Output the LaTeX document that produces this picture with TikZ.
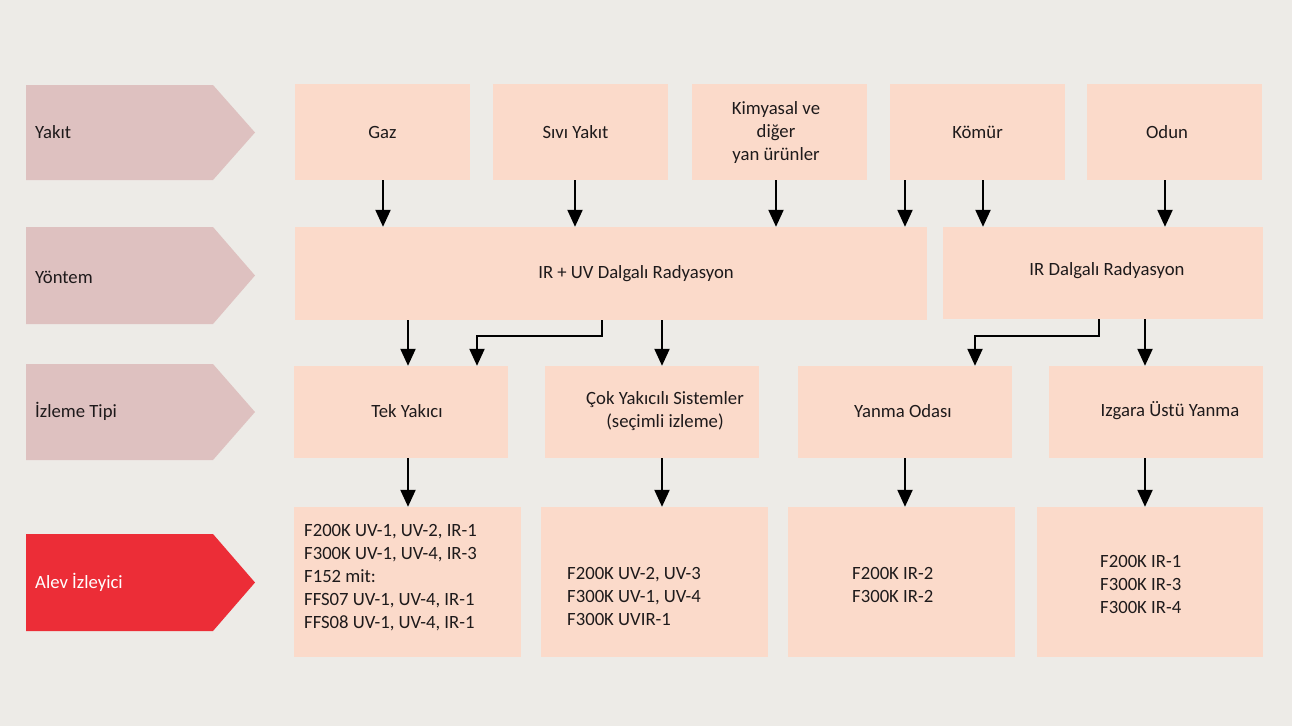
\documentclass[tikz,border=0pt]{standalone}
\usepackage{fontspec}
\setmainfont{Carlito}
\usetikzlibrary{arrows.meta}
\definecolor{bg}{HTML}{EDEBE7}
\definecolor{peach}{HTML}{FBDACA}
\definecolor{pinkl}{HTML}{DEC1C0}
\definecolor{redl}{HTML}{EC2D37}
\definecolor{ink}{HTML}{1E1A1B}
\begin{document}
\begin{tikzpicture}[x=1pt,y=-1pt,
  every node/.style={font=\fontsize{18.7}{23}\selectfont, text=ink},
  box/.style={fill=peach, inner sep=0pt, align=center},
  txt/.style={align=left, anchor=west, inner sep=0pt},
  arr/.style={draw=black, line width=2.2pt, -{Triangle[width=15pt 0 0,length=17pt 0 0]}},
  tag/.style={fill=pinkl}]
\useasboundingbox (0,0) rectangle (1292,726);
\fill[bg] (0,0) rectangle (1292,726);

% left tags
\fill[tag] (26,85) -- (213,85) -- (255,132.5) -- (213,180) -- (26,180) -- cycle;
\fill[tag] (26,227) -- (213,227) -- (255,275.5) -- (213,324) -- (26,324) -- cycle;
\fill[tag] (26,364) -- (213,364) -- (255,412) -- (213,460) -- (26,460) -- cycle;
\fill[redl] (26,534) -- (213,534) -- (255,582.5) -- (213,631) -- (26,631) -- cycle;
\node[txt] (tYakit) at (35,132) {Yakıt};
\node[txt] (tYontem) at (35,277) {Yöntem};
\node[txt] (tIzleme) at (35,411) {İzleme Tipi};
\node[txt, text=white] (tAlev) at (35,582) {Alev İzleyici};

% row 1
\node[box, minimum width=175pt, minimum height=96pt] (gaz) at (382.5,132) {Gaz};
\node[box, minimum width=175pt, minimum height=96pt] (sivi) at (580.5,132) {};
\node (siviT) at (575.5,132) {Sıvı Yakıt};
\node[box, minimum width=175pt, minimum height=96pt] (kim) at (779.5,132) {};
\node[align=center, inner sep=0pt] (kimT) at (776,133) {Kimyasal ve\\diğer\\yan ürünler};
\node[box, minimum width=175pt, minimum height=96pt] (komur) at (977.5,132) {Kömür};
\node[box, minimum width=175pt, minimum height=96pt] (odun) at (1174.5,132) {};
\node (odunT) at (1167,132) {Odun};

% row 2
\node[box, minimum width=632pt, minimum height=93pt] (irsuv) at (611,273.5) {};
\node (irsuvT) at (636,274) {IR + UV Dalgalı Radyasyon};
\node[box, minimum width=320pt, minimum height=92pt] (ir) at (1103,273) {};
\node (irT) at (1107,271) {IR Dalgalı Radyasyon};

% row 3
\node[box, minimum width=214pt, minimum height=92pt] (tek) at (401,412) {};
\node (tekT) at (407,411) {Tek Yakıcı};
\node[box, minimum width=214pt, minimum height=92pt] (cok) at (652,412) {};
\node[align=center, inner sep=0pt] (cokT) at (665,411) {Çok Yakıcılı Sistemler\\(seçimli izleme)};
\node[box, minimum width=214pt, minimum height=92pt] (yanma) at (905,412) {};
\node (yanmaT) at (903,411) {Yanma Odası};
\node[box, minimum width=214pt, minimum height=92pt] (izg) at (1156,412) {};
\node (izgT) at (1170,411) {Izgara Üstü Yanma};

% row 4
\node[box, minimum width=227pt, minimum height=150pt] (tekB) at (407.5,582) {};
\node[txt] (tekBT) at (304,578) {F200K UV-1, UV-2, IR-1\\F300K UV-1, UV-4, IR-3\\F152 mit:\\FFS07 UV-1, UV-4, IR-1\\FFS08 UV-1, UV-4, IR-1};
\node[box, minimum width=227pt, minimum height=150pt] (cokB) at (654,582) {};
\node[txt] (cokBT) at (567,596) {F200K UV-2, UV-3\\F300K UV-1, UV-4\\F300K UVIR-1};
\node[box, minimum width=227pt, minimum height=150pt] (yanmaB) at (901.5,582) {};
\node[txt] (yanmaBT) at (852,585) {F200K IR-2\\F300K IR-2};
\node[box, minimum width=226pt, minimum height=150pt] (izgB) at (1150,582) {};
\node[txt] (izgBT) at (1100,584) {F200K IR-1\\F300K IR-3\\F300K IR-4};

% column coordinates
\coordinate (c383) at (383,0);
\coordinate (c575) at (575,0);
\coordinate (c776) at (776,0);
\coordinate (c905) at (905,0);
\coordinate (c983) at (983,0);
\coordinate (c1165) at (1165,0);
\coordinate (c408) at (408,0);
\coordinate (c477) at (477,0);
\coordinate (c602) at (602,0);
\coordinate (c662) at (662,0);
\coordinate (c975) at (975,0);
\coordinate (c1099) at (1099,0);
\coordinate (c1145) at (1145,0);

% row 1 -> row 2
\draw[arr] (gaz.south -| c383) -- (irsuv.north -| c383);
\draw[arr] (sivi.south -| c575) -- (irsuv.north -| c575);
\draw[arr] (kim.south -| c776) -- (irsuv.north -| c776);
\draw[arr] (komur.south -| c905) -- (irsuv.north -| c905);
\draw[arr] (komur.south -| c983) -- (ir.north -| c983);
\draw[arr] (odun.south -| c1165) -- (ir.north -| c1165);

% row 2 -> row 3
\draw[arr] (irsuv.south -| c408) -- (tek.north -| c408);
\draw[arr] (irsuv.south -| c602) -- ++(0,16) -| (tek.north -| c477);
\draw[arr] (irsuv.south -| c662) -- (cok.north -| c662);
\draw[arr] (ir.south -| c1099) -- ++(0,17) -| (yanma.north -| c975);
\draw[arr] (ir.south -| c1145) -- (izg.north -| c1145);

% row 3 -> row 4
\draw[arr] (tek.south -| c408) -- (tekB.north -| c408);
\draw[arr] (cok.south -| c662) -- (cokB.north -| c662);
\draw[arr] (yanma.south -| c905) -- (yanmaB.north -| c905);
\draw[arr] (izg.south -| c1145) -- (izgB.north -| c1145);
\end{tikzpicture}
\end{document}
